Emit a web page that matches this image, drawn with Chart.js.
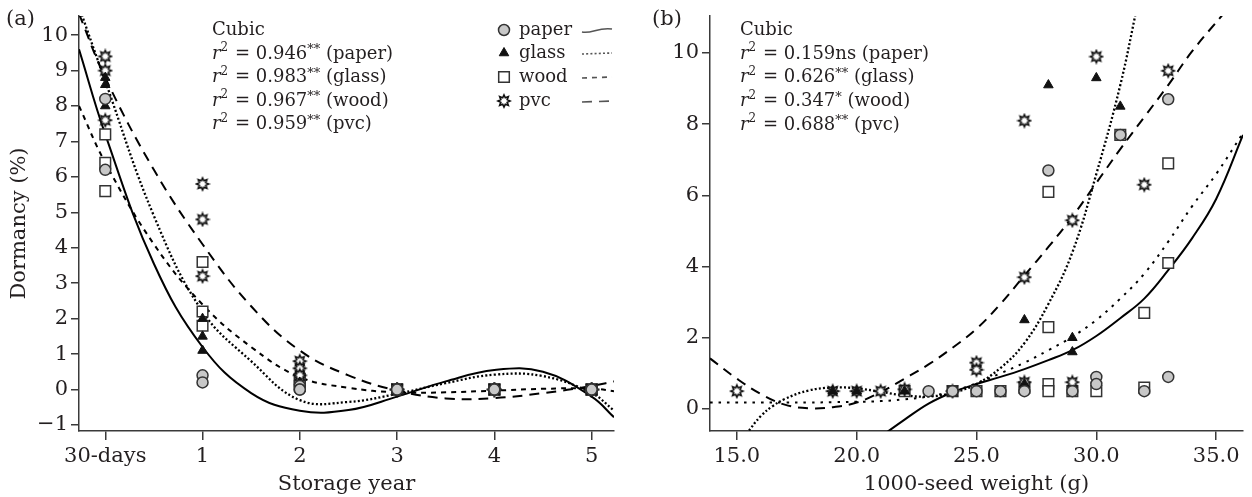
<!DOCTYPE html>
<html>
<head>
<meta charset="utf-8">
<script src="https://cdn.jsdelivr.net/npm/chart.js@4.4.1/dist/chart.umd.min.js"></script>
<style>
  body { margin: 0; background: #fff; }
  #wrap { position: relative; width: 1252px; height: 497px; }
  canvas { position: absolute; top: 0; }
  #chartA { left: 0; }
  #chartB { left: 630px; }
</style>
</head>
<body>
<div id="wrap">
  <canvas id="chartA" width="630" height="497"></canvas>
  <canvas id="chartB" width="622" height="497"></canvas>
</div>
<script>
/* =========================
   DATA - panel (a), storage year
========================= */
const materials = ['paper', 'glass', 'wood', 'pvc'];

const yearPos = [0, 1, 2, 3, 4, 5];
const yearLabels = ['30-days', '1', '2', '3', '4', '5'];
const dormTicksA = [-1, 0, 1, 2, 3, 4, 5, 6, 7, 8, 9, 10];

// dormancy of the seed lots at each storage time
const paperA = [[8.2, 6.2], [0.4, 0.2], [0.1, 0, 0], [0, 0, 0], [0, 0, 0], [0, 0, 0]];
const glassA = [[8.8, 8.6, 8.0], [2.0, 1.5, 1.1], [0.2, 0.1, 0], [0, 0, 0], [0, 0, 0], [0, 0, 0]];
const woodA = [[7.2, 6.4, 5.6], [3.6, 2.2, 1.8], [0.3, 0.2, 0.1], [0, 0, 0], [0, 0, 0], [0, 0, 0]];
const pvcA = [[9.4, 9.0, 7.6], [5.8, 4.8, 3.2], [0.8, 0.6, 0.4], [0, 0, 0], [0, 0, 0], [0, 0, 0]];

// cubic fit curves
const fitXA = [-0.27, 0, 0.5, 1, 1.5, 2, 2.5, 3, 3.5, 4, 4.5, 5, 5.23];
const paperFitA = [9.6, 7.2, 3.55, 1.2, -0.1, -0.6, -0.58, -0.2, 0.23, 0.55, 0.5, -0.2, -0.78];
const glassFitA = [10.8, 8.7, 4.9, 2.2, 0.8, -0.3, -0.35, -0.12, 0.18, 0.42, 0.38, -0.1, -0.59];
const woodFitA = [8.0, 6.4, 4.1, 2.4, 1.2, 0.35, 0.05, -0.08, -0.08, -0.03, 0.02, 0.03, -0.05];
const pvcFitA = [10.6, 8.8, 6.2, 4.1, 2.35, 1.1, 0.4, -0.03, -0.25, -0.24, -0.1, 0.1, 0.23];

const r2A = ['0.946', '0.983', '0.967', '0.959'];
const sigA = ['**', '**', '**', '**'];

/* =========================
   DATA - panel (b), 1000-seed weight
========================= */
const weightTicks = [15, 20, 25, 30, 35];
const dormTicksB = [0, 2, 4, 6, 8, 10];

const paperW = [23, 24, 25, 26, 27, 28, 29, 30, 30, 31, 32, 33, 33];
const paperB = [0.5, 0.5, 0.5, 0.5, 0.5, 6.7, 0.5, 0.9, 0.7, 7.7, 0.5, 8.7, 0.9];
const glassW = [19, 20, 22, 23, 24, 25, 26, 27, 27, 28, 29, 29, 30, 31];
const glassB = [0.5, 0.5, 0.5, 0.5, 0.5, 0.5, 0.5, 2.5, 0.7, 9.1, 2.0, 1.6, 9.3, 8.5];
const woodW = [22, 24, 25, 26, 27, 28, 28, 28, 28, 29, 30, 31, 32, 32, 33, 33];
const woodB = [0.5, 0.5, 0.5, 0.5, 0.6, 6.1, 2.3, 0.7, 0.5, 0.5, 0.5, 7.7, 2.7, 0.6, 6.9, 4.1];
const pvcW = [15, 19, 20, 21, 22, 24, 25, 25, 27, 27, 27, 29, 29, 30, 32, 33];
const pvcB = [0.5, 0.5, 0.5, 0.5, 0.55, 0.5, 1.3, 1.1, 8.1, 3.7, 0.75, 5.3, 0.75, 9.9, 6.3, 9.5];

// cubic fit curves
const paperFitXB = [21.0, 22, 23, 24, 25, 26, 27, 28, 29, 30, 31, 32, 33, 34, 35, 36.12];
const paperFitB = [-0.78, -0.3, 0.15, 0.47, 0.7, 0.9, 1.12, 1.37, 1.65, 2.05, 2.55, 3.1, 3.9, 4.8, 5.9, 7.7];
const glassFitXB = [15.4, 16, 16.5, 17, 18, 19, 20, 21, 22, 23, 24, 25, 26, 27, 28, 29, 30, 31, 31.7];
const glassFitB = [-0.7, -0.2, 0.08, 0.28, 0.52, 0.6, 0.58, 0.48, 0.38, 0.35, 0.45, 0.7, 1.15, 1.85, 2.95, 4.4, 6.6, 9.1, 11.3];
const woodFitXB = [13.88, 15, 16, 17, 18, 19, 20, 21, 22, 23, 24, 25, 26, 27, 28, 29, 30, 31, 32, 33, 34, 35, 36.12];
const woodFitB = [0.18, 0.18, 0.18, 0.18, 0.18, 0.19, 0.2, 0.22, 0.27, 0.35, 0.5, 0.72, 1.0, 1.3, 1.65, 2.03, 2.5, 3.1, 3.8, 4.7, 5.7, 6.6, 7.75];
const pvcFitXB = [13.88, 15, 16, 17, 18, 19, 20, 21, 22, 23, 24, 25, 26, 27, 28, 29, 30, 31, 32, 33, 34, 35.3];
const pvcFitB = [1.42, 0.85, 0.42, 0.12, 0.02, 0.05, 0.18, 0.47, 0.85, 1.25, 1.72, 2.25, 2.95, 3.75, 4.55, 5.4, 6.35, 7.3, 8.2, 9.1, 10.05, 11.1];

const r2B = ['0.159', '0.626', '0.347', '0.688'];
const sigB = ['ns', '**', '*', '**'];

/* =========================
   STYLE
========================= */
const FAM = '"DejaVu Serif", "Liberation Serif", serif';
const INK = '#231f20';
const AXIS = '#3a3a3a';
Chart.defaults.font.family = FAM;
Chart.defaults.color = INK;

// hollow star marker for pvc
function makeStar(r) {
  const s = Math.ceil(r * 2 + 4);
  const c = document.createElement('canvas');
  c.width = s; c.height = s;
  const g = c.getContext('2d');
  g.translate(s / 2, s / 2);
  g.beginPath();
  for (let i = 0; i < 16; i++) {
    const rad = i % 2 ? r * 0.58 : r;
    const a = -Math.PI / 2 + i * Math.PI / 8;
    g.lineTo(rad * Math.cos(a), rad * Math.sin(a));
  }
  g.closePath();
  g.fillStyle = '#fff';
  g.fill();
  g.lineWidth = 1.7;
  g.strokeStyle = '#111';
  g.stroke();
  return c;
}
const STAR = makeStar(6);

const MARK = {
  paper: { pointStyle: 'circle', pointRadius: 5.5, pointBackgroundColor: '#c8c8c8', pointBorderColor: '#333', pointBorderWidth: 1.5 },
  glass: { pointStyle: 'triangle', pointRadius: 5.5, pointBackgroundColor: '#111', pointBorderColor: '#111', pointBorderWidth: 1 },
  wood: { pointStyle: 'rect', pointRadius: 7.5, pointBackgroundColor: '#fff', pointBorderColor: '#333', pointBorderWidth: 1.5 },
  pvc: { pointStyle: STAR, pointRadius: 7, pointBorderWidth: 0 }
};

const DASH_A = { paper: [], glass: [2, 2.2], wood: [5, 5], pvc: [10, 7] };
const DASH_B = { paper: [], glass: [2, 2.2], wood: [2.5, 6], pvc: [10, 7] };

/* =========================
   HELPERS
========================= */
const zip = (xs, ys) => xs.map((x, i) => ({ x: x, y: ys[i] }));
const byYear = groups => groups.flatMap((ys, i) => ys.map(y => ({ x: yearPos[i], y: y })));

function points(name, data) {
  return Object.assign({ type: 'scatter', label: name, data: data, showLine: false, order: 1 }, MARK[name]);
}

function fitLine(name, data, dash) {
  return {
    type: 'line', label: name + ' fit', data: data,
    borderColor: '#000', borderWidth: name === 'glass' ? 2.3 : 2, borderDash: dash,
    pointRadius: 0, tension: 0.4, capBezierPoints: false, fill: false, order: 5
  };
}

function minusFmt(v) {
  return v < 0 ? '\u2212' + Math.abs(v) : String(v);
}

function scales(o) {
  return {
    x: {
      type: 'linear', min: o.xMin, max: o.xMax,
      afterBuildTicks: s => { s.ticks = o.xTicks.map(v => ({ value: v })); },
      afterFit: s => { s.height = 66; },
      ticks: { callback: o.xFmt, font: { size: 21 }, padding: 4, maxRotation: 0, autoSkip: false, color: INK },
      grid: { display: true, drawOnChartArea: false, drawTicks: true, tickLength: 9, color: AXIS, lineWidth: 1.5 },
      border: { display: true, color: AXIS, width: 1.5 },
      title: { display: true, text: o.xTitle, font: { size: 21 }, padding: { top: 0, bottom: 0 }, color: INK }
    },
    y: {
      type: 'linear', min: o.yMin, max: o.yMax,
      afterBuildTicks: s => { s.ticks = o.yTicks.map(v => ({ value: v })); },
      afterFit: s => { s.width = o.yWidth; },
      ticks: { callback: minusFmt, font: { size: 21 }, padding: 3, autoSkip: false, color: INK },
      grid: { display: true, drawOnChartArea: false, drawTicks: true, tickLength: 8, color: AXIS, lineWidth: 1.5 },
      border: { display: true, color: AXIS, width: 1.5 },
      title: { display: !!o.yTitle, text: o.yTitle || '', font: { size: 21 }, padding: { top: 7, bottom: 0 }, color: INK }
    }
  };
}

/* =========================
   TEXT + LEGEND PLUGIN
========================= */
function drawMarker(ctx, name, x, y) {
  const m = MARK[name];
  ctx.save();
  ctx.fillStyle = m.pointBackgroundColor;
  ctx.strokeStyle = m.pointBorderColor;
  ctx.lineWidth = m.pointBorderWidth;
  ctx.beginPath();
  if (name === 'paper') {
    ctx.arc(x, y, m.pointRadius, 0, Math.PI * 2);
  } else if (name === 'glass') {
    const r = m.pointRadius;
    ctx.moveTo(x, y - r);
    ctx.lineTo(x + r * 0.866, y + r * 0.5);
    ctx.lineTo(x - r * 0.866, y + r * 0.5);
    ctx.closePath();
  } else if (name === 'wood') {
    const h = m.pointRadius * Math.SQRT1_2;
    ctx.rect(x - h, y - h, 2 * h, 2 * h);
  } else {
    ctx.drawImage(STAR, x - STAR.width / 2, y - STAR.height / 2);
    ctx.restore();
    return;
  }
  ctx.fill();
  ctx.stroke();
  ctx.restore();
}

function richLine(ctx, x, y, value, sig, label) {
  const parts = [['r', 'i'], ['2', 'sup'], [' = ' + value, 'n']];
  if (sig === 'ns') parts.push(['ns', 'n']);
  else parts.push([sig, 'ast']);
  parts.push([' (' + label + ')', 'n']);
  parts.forEach(([t, k]) => {
    let font = '18px ' + FAM, dy = 0;
    if (k === 'i') font = 'italic 18px ' + FAM;
    if (k === 'sup') { font = '12px ' + FAM; dy = -6; }
    if (k === 'ast') { font = '13px ' + FAM; dy = -4; }
    ctx.font = font;
    ctx.fillText(t, x, y + dy);
    x += ctx.measureText(t).width + (k === 'sup' ? 1 : 0);
  });
}

const notesPlugin = {
  id: 'notes',
  afterDraw(chart, args, o) {
    const ctx = chart.ctx;
    ctx.save();
    ctx.fillStyle = INK;
    ctx.textBaseline = 'middle';
    ctx.textAlign = 'left';

    ctx.font = '21px ' + FAM;
    ctx.fillText(o.tag, o.tagX, 20);

    ctx.font = '18px ' + FAM;
    ctx.fillText('Cubic', o.x, o.rows[0]);
    materials.forEach((m, i) => {
      ctx.fillStyle = INK;
      richLine(ctx, o.x, o.rows[i + 1], o.r2[i], o.sig[i], m);
    });

    if (o.legend) {
      const lx = o.legend.x;
      materials.forEach((m, i) => {
        const y = o.legend.rows[i];
        drawMarker(ctx, m, lx, y);
        ctx.fillStyle = INK;
        ctx.font = '18px ' + FAM;
        ctx.fillText(m, lx + 15, y);
        // line sample
        ctx.save();
        ctx.strokeStyle = '#555';
        ctx.lineWidth = 1.6;
        ctx.setLineDash(DASH_A[m]);
        ctx.beginPath();
        if (m === 'paper') {
          ctx.moveTo(o.legend.lineFrom, y + 2);
          ctx.bezierCurveTo(o.legend.lineFrom + 10, y + 4, o.legend.lineTo - 14, y - 3, o.legend.lineTo, y - 1);
        } else {
          ctx.moveTo(o.legend.lineFrom, y + 1);
          ctx.lineTo(o.legend.lineTo, y);
        }
        ctx.stroke();
        ctx.restore();
      });
    }
    ctx.restore();
  }
};

/* =========================
   CHART (a)
========================= */
new Chart(document.getElementById('chartA'), {
  type: 'scatter',
  data: {
    datasets: [
      points('paper', byYear(paperA)),
      points('glass', byYear(glassA)),
      points('pvc', byYear(pvcA)),
      points('wood', byYear(woodA)),
      fitLine('paper', zip(fitXA, paperFitA), DASH_A.paper),
      fitLine('glass', zip(fitXA, glassFitA), DASH_A.glass),
      fitLine('wood', zip(fitXA, woodFitA), DASH_A.wood),
      fitLine('pvc', zip(fitXA, pvcFitA), DASH_A.pvc)
    ]
  },
  options: {
    responsive: false,
    animation: false,
    layout: { padding: { left: 0, right: 16, top: 16, bottom: 0 } },
    scales: scales({
      xMin: -0.27, xMax: 5.23, xTicks: yearPos,
      xFmt: v => yearLabels[yearPos.indexOf(v)],
      xTitle: 'Storage year',
      yMin: -1.17, yMax: 10.54, yTicks: dormTicksA, yWidth: 79,
      yTitle: 'Dormancy (%)'
    }),
    plugins: {
      legend: { display: false },
      tooltip: { enabled: false },
      notes: {
        tag: '(a)', tagX: 6, x: 212, rows: [30, 54, 77.5, 101, 124.5],
        r2: r2A, sig: sigA,
        legend: { x: 504, rows: [30, 53, 77, 101], lineFrom: 582, lineTo: 612 }
      }
    }
  },
  plugins: [notesPlugin]
});

/* =========================
   CHART (b)
========================= */
new Chart(document.getElementById('chartB'), {
  type: 'scatter',
  data: {
    datasets: [
      points('paper', zip(paperW, paperB)),
      points('glass', zip(glassW, glassB)),
      points('pvc', zip(pvcW, pvcB)),
      points('wood', zip(woodW, woodB)),
      fitLine('paper', zip(paperFitXB, paperFitB), DASH_B.paper),
      fitLine('glass', zip(glassFitXB, glassFitB), DASH_B.glass),
      fitLine('wood', zip(woodFitXB, woodFitB), DASH_B.wood),
      fitLine('pvc', zip(pvcFitXB, pvcFitB), DASH_B.pvc)
    ]
  },
  options: {
    responsive: false,
    animation: false,
    layout: { padding: { left: 0, right: 6, top: 16, bottom: 0 } },
    scales: scales({
      xMin: 13.88, xMax: 36.12, xTicks: weightTicks,
      xFmt: v => v.toFixed(1),
      xTitle: '1000-seed weight (g)',
      yMin: -0.62, yMax: 11.04, yTicks: dormTicksB, yWidth: 80
    }),
    plugins: {
      legend: { display: false },
      tooltip: { enabled: false },
      notes: {
        tag: '(b)', tagX: 22, x: 110, rows: [30, 54, 77.5, 101.5, 125],
        r2: r2B, sig: sigB, legend: null
      }
    }
  },
  plugins: [notesPlugin]
});
</script>
</body>
</html>
